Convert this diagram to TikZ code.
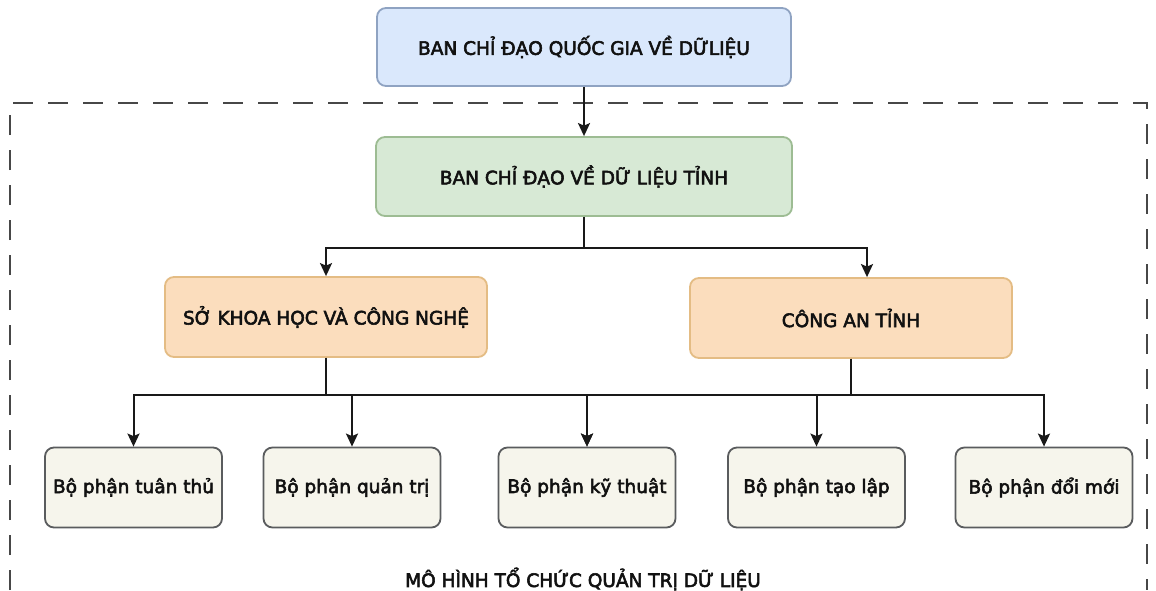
\documentclass[tikz,border=0pt]{standalone}
\usepackage{fontspec}
\setmainfont{DejaVu Sans}
\newfontfamily\boxfont[FakeBold=3]{DejaVu Sans}
\usetikzlibrary{arrows.meta,calc}
\definecolor{topfill}{HTML}{DAE8FC}
\definecolor{topdraw}{HTML}{8FA3C2}
\definecolor{grnfill}{HTML}{D7E9D5}
\definecolor{grndraw}{HTML}{9DBC93}
\definecolor{orfill}{HTML}{FBDDBD}
\definecolor{ordraw}{HTML}{E4BC84}
\definecolor{botfill}{HTML}{F6F5EC}
\definecolor{botdraw}{HTML}{5A5C5E}
\definecolor{txt}{HTML}{111111}
\tikzset{
  box/.style={rectangle, rounded corners=9pt, line width=1.8pt, align=center,
    text=txt, font=\boxfont\fontsize{18.5pt}{21pt}\selectfont, inner sep=0pt},
  topbox/.style={box, fill=topfill, draw=topdraw, minimum width=414pt, minimum height=78pt},
  grnbox/.style={box, fill=grnfill, draw=grndraw, minimum width=416pt, minimum height=79pt},
  orbox/.style={box, fill=orfill, draw=ordraw, minimum width=322pt, minimum height=80pt},
  botbox/.style={box, fill=botfill, draw=botdraw, minimum width=177pt, minimum height=80pt},
  arr/.style={line width=2pt, draw=black!90, -{Stealth[length=13pt,width=12pt,inset=2.5pt]}},
  frame/.style={line width=2.4pt, draw=black!72, dash pattern=on 20pt off 15pt}
}
\begin{document}
\begin{tikzpicture}[x=1pt,y=1pt]
\useasboundingbox[fill=white] (0,0) rectangle (1156,-590);
% dashed frame
\coordinate (fbl) at (10,-590);
\coordinate (ftl) at (10,-103);
\coordinate (ftr) at (1147,-103);
\coordinate (fbr) at (1147,-590);
\draw[frame] (fbl) -- (ftl) -- (ftr) -- (fbr);

\node[topbox] (top) at (584,-47) {BAN CHỈ ĐẠO QUỐC GIA VỀ DỮLIỆU};
\node[grnbox] (grn) at (584,-176.5) {BAN CHỈ ĐẠO VỀ DỮ LIỆU TỈNH};
\node[orbox] (oL) at (326,-317) {SỞ KHOA HỌC VÀ CÔNG NGHỆ};
\node[orbox] (oR) at (851,-318) {CÔNG AN TỈNH};

\node[botbox] (b1) at (133.5,-487.5) {Bộ phận tuân thủ};
\node[botbox] (b2) at (352,-487.5) {Bộ phận quản trị};
\node[botbox] (b3) at (587,-487.5) {Bộ phận kỹ thuật};
\node[botbox] (b4) at (816.5,-487.5) {Bộ phận tạo lập};
\node[botbox] (b5) at (1044,-487.5) {Bộ phận đổi mới};

\node[font=\boxfont\fontsize{18.5pt}{21pt}\selectfont, text=txt] (title) at (583,-579) {MÔ HÌNH TỔ CHỨC QUẢN TRỊ DỮ LIỆU};

% connectors
\draw[arr] (top.south) -- (grn.north);
\coordinate (bus1) at (0,-248);
\draw[arr] (grn.south) |- (oL.north |- bus1) -- (oL.north);
\draw[arr] (grn.south) |- ([xshift=16pt]oR.north |- bus1) -- ([xshift=16pt]oR.north);

\coordinate (bus2) at (0,-395);
\draw[arr] (oL.south) |- (b1.north |- bus2) -- (b1.north);
\draw[arr] (oL.south) |- (b2.north |- bus2) -- (b2.north);
\draw[arr] (oL.south) |- (b3.north |- bus2) -- (b3.north);
\draw[arr] (oR.south) |- (b3.north |- bus2) -- (b3.north);
\draw[arr] (oR.south) |- (b4.north |- bus2) -- (b4.north);
\draw[arr] (oR.south) |- (b5.north |- bus2) -- (b5.north);
\end{tikzpicture}
\end{document}
